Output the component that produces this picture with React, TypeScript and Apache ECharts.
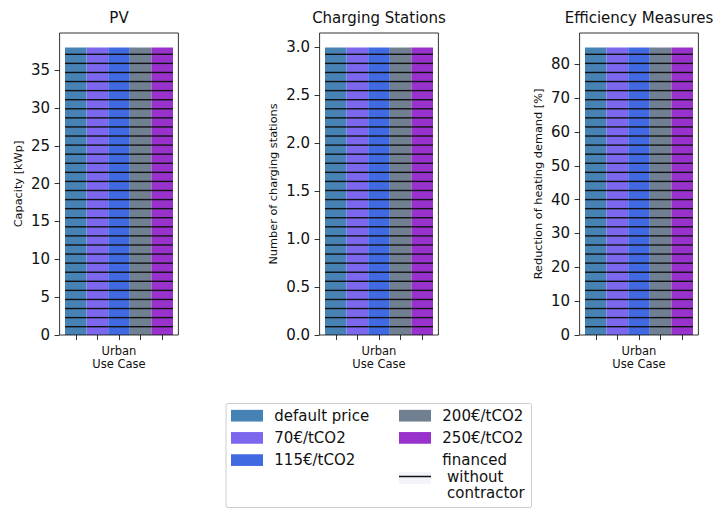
import React, { useEffect, useRef } from "react";
import * as echarts from "echarts";

// Scenarios (one bar each per panel) and their colours
const scenarios = ["default price", "70€/tCO2", "115€/tCO2", "200€/tCO2", "250€/tCO2"];
const scenarioColors = ["#4682B4", "#7B68EE", "#4169E1", "#708090", "#9932CC"];
const financedName = "financed\n without\n contractor";
const caseLabel = "Urban\nUse Case";

// PV capacity [kWp]
const pvCapacity = [38, 38, 38, 38, 38];
const pvFinanced = [38, 38, 38, 38, 38];
const pvTicks = [0, 5, 10, 15, 20, 25, 30, 35];

// Number of charging stations
const chargingStations = [3, 3, 3, 3, 3];
const chargingFinanced = [3, 3, 3, 3, 3];
const chargingTicks = [0, 0.5, 1, 1.5, 2, 2.5, 3];

// Reduction of heating demand [%]
const heatingReduction = [85, 85, 85, 85, 85];
const heatingFinanced = [85, 85, 85, 85, 85];
const heatingTicks = [0, 10, 20, 30, 40, 50, 60, 70, 80];

const FONT = "DejaVu Sans";
const TEXT = "#111";

const panels = [
  { title: "PV", yName: "Capacity [kWp]", values: pvCapacity, financed: pvFinanced, ticks: pvTicks, decimals: 0, nameGap: 36 },
  { title: "Charging Stations", yName: "Number of charging stations", values: chargingStations, financed: chargingFinanced, ticks: chargingTicks, decimals: 1, nameGap: 41 },
  { title: "Efficiency Measures", yName: "Reduction of heating demand [%]", values: heatingReduction, financed: heatingFinanced, ticks: heatingTicks, decimals: 0, nameGap: 36 },
];

// layout
const panelLeft = [65, 325, 585];
const gridTop = 33;
const gridHeight = 302;
const gridWidth = 108;
const frameMargin = 5.4;
const HATCH_SPACING = 9.08;
const HATCH_OFFSET = 8.3;

// legend icon for the hatched series: one horizontal stroke, with hairline slivers keeping the box height
const hatchIcon = "path://M0 0H32V0.01H0Z M0 5.15H32V6.55H0Z M0 11.69H32V11.7H0Z";

export default function App() {
  const ref = useRef<HTMLDivElement>(null);

  useEffect(() => {
    if (!ref.current) return;
    const chart = echarts.init(ref.current, undefined, { renderer: "svg" });

    const grids: any[] = [];
    const xAxes: any[] = [];
    const yAxes: any[] = [];
    const series: any[] = [];
    const titles: any[] = [];
    const graphics: any[] = [];

    panels.forEach((p, pi) => {
      const left = panelLeft[pi];
      const yMax = Math.max(...p.values, ...p.financed) * 1.05;
      grids.push({ left, top: gridTop, width: gridWidth, height: gridHeight });
      xAxes.push({
        type: "category",
        gridIndex: pi,
        data: scenarios,
        boundaryGap: true,
        axisLine: { show: false },
        axisTick: { show: true, alignWithLabel: true, length: 5, lineStyle: { color: "#000", width: 0.8 } },
        axisLabel: {
          interval: 0,
          margin: 9,
          fontFamily: FONT,
          fontSize: 11.5,
          lineHeight: 13.5,
          color: TEXT,
          formatter: (_v: string, i: number) => (i === 2 ? caseLabel : ""),
        },
        splitLine: { show: false },
      });
      yAxes.push({
        type: "value",
        gridIndex: pi,
        min: 0,
        max: yMax,
        offset: frameMargin,
        name: p.yName,
        nameLocation: "middle",
        nameRotate: 90,
        nameGap: p.nameGap,
        nameTextStyle: { fontFamily: FONT, fontSize: 11.3, color: TEXT },
        axisLine: { show: false },
        axisTick: { show: true, length: 5, customValues: p.ticks, lineStyle: { color: "#000", width: 0.8 } },
        axisLabel: {
          customValues: p.ticks,
          margin: 9.6,
          fontFamily: FONT,
          fontSize: 15,
          color: TEXT,
          formatter: (v: number) => v.toFixed(p.decimals),
        },
        splitLine: { show: false },
      });
      scenarios.forEach((name, si) => {
        series.push({
          type: "bar",
          name,
          xAxisIndex: pi,
          yAxisIndex: pi,
          stack: "panel" + pi,
          barWidth: "100%",
          itemStyle: { color: scenarioColors[si] },
          data: p.values.map((v, i) => (i === si ? v : "-")),
        });
      });
      series.push({
        type: "custom",
        name: financedName,
        xAxisIndex: pi,
        yAxisIndex: pi,
        z: 3,
        encode: { x: 0, y: 1 },
        data: p.financed.map((v, i) => [i, v]),
        renderItem: (_params: any, api: any) => {
          const idx = api.value(0);
          const v = api.value(1);
          const top = api.coord([idx, v]);
          const base = api.coord([idx, 0]);
          const w = api.size([1, 0])[0];
          const x0 = top[0] - w / 2;
          const x1 = top[0] + w / 2;
          const children: any[] = [];
          for (let y = base[1] - HATCH_OFFSET; y > top[1]; y -= HATCH_SPACING) {
            children.push({
              type: "line",
              shape: { x1: x0, y1: y, x2: x1, y2: y },
              style: { stroke: "#111", lineWidth: 1.4 },
            });
          }
          return { type: "group", children };
        },
      });
      titles.push({
        text: p.title,
        left: left + gridWidth / 2,
        top: 10,
        padding: 0,
        textAlign: "center",
        textStyle: { fontFamily: FONT, fontSize: 15, fontWeight: "normal", color: TEXT },
      });
      // axes frame (spines)
      graphics.push({
        type: "rect",
        z: 10,
        shape: { x: left - frameMargin, y: gridTop, width: gridWidth + 2 * frameMargin, height: gridHeight },
        style: { fill: "none", stroke: "#000", lineWidth: 0.8 },
      });
    });

    // legend box and the pale patch behind the hatch icon
    graphics.push({
      type: "rect",
      z: 0,
      shape: { x: 226, y: 403.5, width: 305.5, height: 104, r: 2 },
      style: { fill: "#fff", stroke: "#cccccc", lineWidth: 1 },
    });
    graphics.push({
      type: "rect",
      z: 1,
      shape: { x: 399, y: 478 - 5.85, width: 32, height: 11.7 },
      style: { fill: "#f3f3fc" },
    });

    const legendBase = {
      orient: "vertical",
      itemWidth: 32,
      itemHeight: 11.7,
      itemGap: 5.2,
      padding: 0,
      selectedMode: false,
      textStyle: { fontFamily: FONT, fontSize: 15, lineHeight: 17, color: TEXT, padding: [0, 0, 0, 6.3] },
    };

    chart.setOption({
      animation: false,
      backgroundColor: "#fff",
      title: titles,
      grid: grids,
      xAxis: xAxes,
      yAxis: yAxes,
      series,
      legend: [
        { ...legendBase, left: 231, top: 407.2, data: scenarios.slice(0, 3).map((n) => ({ name: n, icon: "rect" })) },
        { ...legendBase, left: 399, top: 407.2, data: scenarios.slice(3).map((n) => ({ name: n, icon: "rect" })) },
        {
          ...legendBase,
          left: 399,
          top: 451,
          data: [{ name: financedName, icon: hatchIcon, itemStyle: { color: "#111" } }],
        },
      ],
      graphic: graphics,
    });

    return () => chart.dispose();
  }, []);

  return <div ref={ref} style={{ position: "fixed", left: 0, top: 0, width: 715, height: 509 }} />;
}
